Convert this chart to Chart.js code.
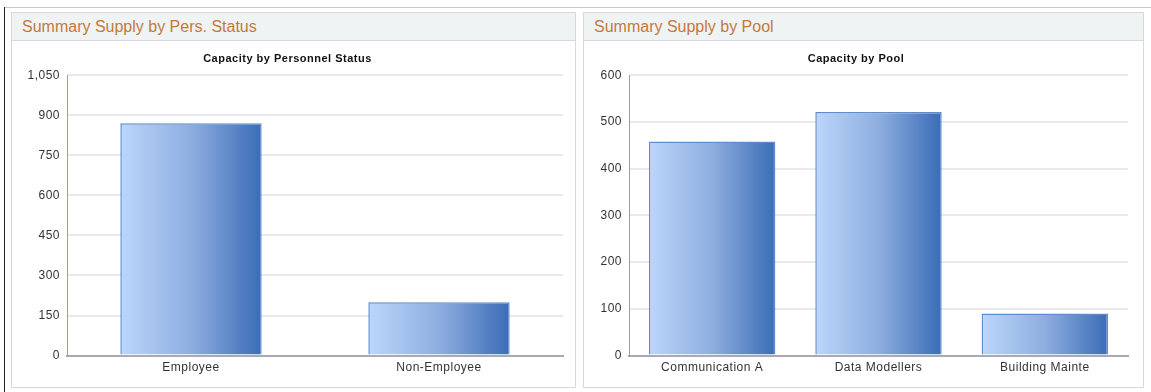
<!DOCTYPE html>
<html>
<head>
<meta charset="utf-8">
<script src="https://cdn.jsdelivr.net/npm/chart.js@4.4.1/dist/chart.umd.min.js"></script>
<style>
  body { margin: 0; background: #fff; font-family: Arial, "Liberation Sans", sans-serif; }
  #page { position: relative; width: 1151px; height: 392px; overflow: hidden; }
  .topline { position: absolute; left: 4px; top: 7px; width: 1147px; height: 1px; background: #c8c8c8; }
  .leftline { position: absolute; left: 4px; top: 7px; width: 1px; height: 385px; background: #222; }
  .panel { position: absolute; top: 12px; height: 376px; border: 1px solid #d5d8dd; background: #fff; box-sizing: border-box; }
  .panel .hdr { height: 28px; background: #f0f3f4; border-bottom: 1px solid #d5d8dd; color: #c4793a;
    font-size: 16px; line-height: 28px; padding-left: 10px; box-sizing: border-box; }
  .panel canvas { position: absolute; left: 0; top: 28px; }
</style>
</head>
<body>
<div id="page">
  <div class="topline"></div>
  <div class="leftline"></div>
  <div class="panel" style="left:11px;width:565px">
    <div class="hdr">Summary Supply by Pers. Status</div>
    <canvas id="statusChart" width="563" height="346"></canvas>
  </div>
  <div class="panel" style="left:583px;width:561px">
    <div class="hdr">Summary Supply by Pool</div>
    <canvas id="poolChart" width="559" height="346"></canvas>
  </div>
</div>
<script>
const statusLabels = ["Employee", "Non-Employee"];
const statusCapacity = [870, 200];
const statusTicks = [0, 150, 300, 450, 600, 750, 900, 1050];

const poolLabels = ["Communication A", "Data Modellers", "Building Mainte"];
const poolCapacity = [458, 521, 90];
const poolTicks = [0, 100, 200, 300, 400, 500, 600];

// the chart text is set slightly spaced out
const spacedText = {
  id: "spacedText",
  beforeUpdate: chart => { chart.ctx.letterSpacing = "0.5px"; },
  beforeDraw: chart => { chart.ctx.letterSpacing = "0.5px"; }
};

// horizontal light-to-dark gradient across each bar
function barGradient(ctx, barPct) {
  const chart = ctx.chart;
  const xs = chart.scales.x;
  if (!chart.chartArea || !xs) return "#6f95d0";
  const n = chart.data.labels.length;
  const w = xs.width / n * barPct;
  const cx = xs.getPixelForValue(ctx.dataIndex);
  const g = chart.ctx.createLinearGradient(cx - w / 2, 0, cx + w / 2, 0);
  g.addColorStop(0, "#bcd6fb");
  g.addColorStop(0.5, "#8eaee0");
  g.addColorStop(1, "#3a6cb6");
  return g;
}

function makeChart(id, title, labels, values, ticks, barPct, yWidth, pad) {
  return new Chart(document.getElementById(id), {
    type: "bar",
    plugins: [spacedText],
    data: {
      labels: labels,
      datasets: [{
        data: values,
        backgroundColor: c => barGradient(c, barPct),
        borderColor: "#5f8ccc",
        borderWidth: 1.5,
        barPercentage: barPct,
        categoryPercentage: 1
      }]
    },
    options: {
      responsive: false,
      animation: false,
      layout: { padding: pad },
      plugins: {
        legend: { display: false },
        tooltip: { enabled: false },
        title: {
          display: true,
          text: title,
          color: "#111",
          font: { family: "Arial", size: 11, weight: "bold" },
          padding: { top: 11, bottom: 10 }
        }
      },
      scales: {
        x: {
          grid: { display: false, drawTicks: false },
          border: { color: "#a9a9b4", width: 2 },
          ticks: { color: "#333", font: { family: "Arial", size: 12 }, padding: 5 }
        },
        y: {
          min: ticks[0],
          max: ticks[ticks.length - 1],
          afterBuildTicks: s => { s.ticks = ticks.map(v => ({ value: v })); },
          afterFit: s => { s.width = yWidth; },
          grid: { color: "#e8e8ee", lineWidth: 2, drawTicks: false },
          border: { color: "#9c9cb4", width: 1 },
          ticks: {
            color: "#333",
            font: { family: "Arial", size: 12 },
            padding: 7,
            callback: v => v.toLocaleString("en-US")
          }
        }
      }
    }
  });
}

makeChart("statusChart", "Capacity by Personnel Status", statusLabels, statusCapacity, statusTicks,
  0.57, 55, { left: 0, right: 12, top: 0, bottom: 7 });
makeChart("poolChart", "Capacity by Pool", poolLabels, poolCapacity, poolTicks,
  0.76, 45, { left: 0, right: 15, top: 0, bottom: 7 });
</script>
</body>
</html>
